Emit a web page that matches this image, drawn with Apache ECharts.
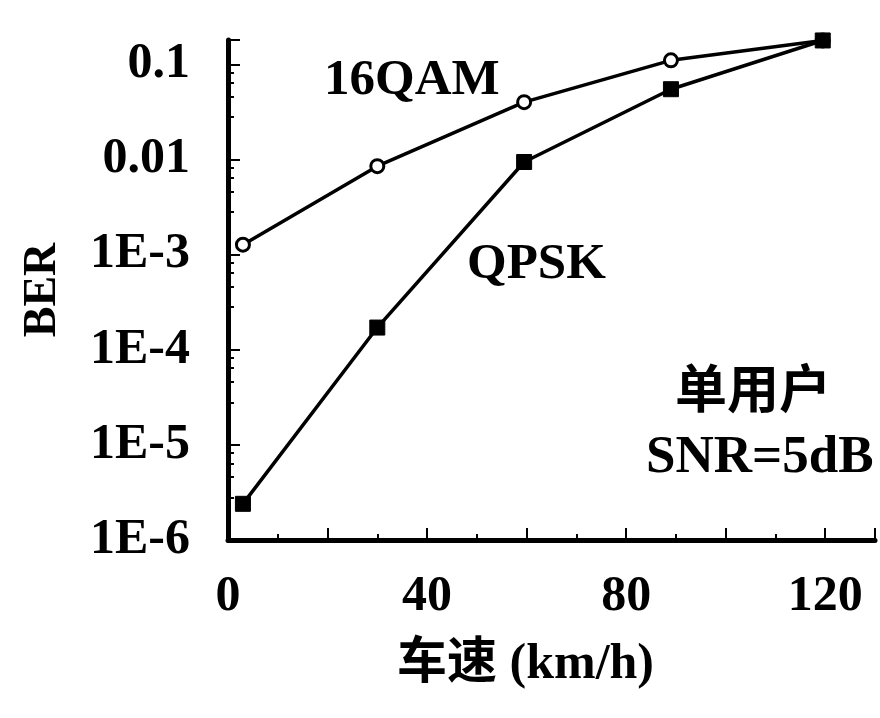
<!DOCTYPE html>
<html>
<head>
<meta charset="utf-8">
<script src="https://cdn.jsdelivr.net/npm/echarts@6/dist/echarts.min.js"></script>
<style>html,body{margin:0;padding:0;background:#fff;}#c{width:880px;height:718px;}</style>
</head>
<body>
<div id="c"></div>
<script>
// Data
const speeds = [3, 30, 59.5, 89, 119.5];
const ber16QAM = [1.27e-3, 8.5e-3, 0.040, 0.11, 0.178];
const berQPSK = [2.4e-6, 1.71e-4, 9.4e-3, 0.0547, 0.178];
const xTickLabels = ['0', '40', '80', '120'];
const yTickLabels = ['1E-6', '1E-5', '1E-4', '1E-3', '0.01', '0.1'];
const seriesNames = ['16QAM', 'QPSK'];

const serif = '"Liberation Serif", "Times New Roman", serif';
const mixed = '"Liberation Serif", "Noto Sans CJK SC", serif';
const cjk = '"Noto Sans CJK SC", "Liberation Serif", serif';

const chart = echarts.init(document.getElementById('c'), null, {renderer: 'canvas'});
chart.setOption({
  animation: false,
  backgroundColor: '#fff',
  grid: {left: 228, right: 5, top: 40, bottom: 178, containLabel: false},
  xAxis: {
    type: 'value', min: 0, max: 130, interval: 20,
    axisLine: {lineStyle: {color: '#000', width: 5}},
    axisTick: {inside: true, length: 12, lineStyle: {color: '#000', width: 2}},
    minorTick: {show: true, splitNumber: 2, length: 6, lineStyle: {color: '#000', width: 2}},
    splitLine: {show: false},
    axisLabel: {
      margin: 32, color: '#000', fontFamily: serif, fontWeight: 'bold', fontSize: 50,
      formatter: function (v) { const i = xTickLabels.indexOf(String(v)); return i >= 0 ? xTickLabels[i] : ''; }
    },
    name: '车速 (km/h)', nameLocation: 'middle', nameGap: 100,
    nameTextStyle: {color: '#000', fontFamily: mixed, fontWeight: 'bold', fontSize: 50, padding: [0, 52, 0, 0]}
  },
  yAxis: {
    type: 'log', logBase: 10, min: 1e-6, max: 0.18,
    axisLine: {lineStyle: {color: '#000', width: 5}},
    axisTick: {inside: true, length: 12, lineStyle: {color: '#000', width: 2}},
    minorTick: {show: true, splitNumber: 5, length: 6, lineStyle: {color: '#000', width: 2}},
    splitLine: {show: false},
    axisLabel: {
      margin: 38, color: '#000', fontFamily: serif, fontWeight: 'bold', fontSize: 50,
      showMaxLabel: false,
      formatter: function (v) {
        const e = Math.round(Math.log10(v));
        if (Math.abs(Math.log10(v) - e) > 1e-6) return '';
        const idx = e + 6;
        return (idx >= 0 && idx < yTickLabels.length) ? yTickLabels[idx] : '';
      }
    },
    name: 'BER', nameLocation: 'middle', nameGap: 162, nameRotate: 90,
    nameTextStyle: {color: '#000', fontFamily: serif, fontWeight: 'bold', fontSize: 46}
  },
  series: [
    {
      name: seriesNames[0], type: 'line',
      data: speeds.map((x, i) => [x, ber16QAM[i]]),
      symbol: 'circle', symbolSize: 13,
      lineStyle: {color: '#000', width: 3.5},
      itemStyle: {color: '#fff', borderColor: '#000', borderWidth: 3},
      z: 2
    },
    {
      name: seriesNames[1], type: 'line',
      data: speeds.map((x, i) => [x, berQPSK[i]]),
      symbol: 'rect', symbolSize: 15,
      lineStyle: {color: '#000', width: 3.5},
      itemStyle: {color: '#000', borderColor: '#000', borderWidth: 1},
      z: 3
    }
  ],
  graphic: [
    {type: 'text', left: 324, top: 55, style: {text: '16QAM', font: 'bold 51px ' + serif, fill: '#000'}},
    {type: 'text', left: 467, top: 239, style: {text: 'QPSK', font: 'bold 51px ' + serif, fill: '#000'}},
    {type: 'text', left: 675, top: 362, style: {text: '单用户', font: 'bold 52px ' + cjk, fill: '#000'}},
    {type: 'text', left: 646, top: 432, style: {text: 'SNR=5dB', font: 'bold 53px ' + serif, fill: '#000'}}
  ]
});
</script>
</body>
</html>
